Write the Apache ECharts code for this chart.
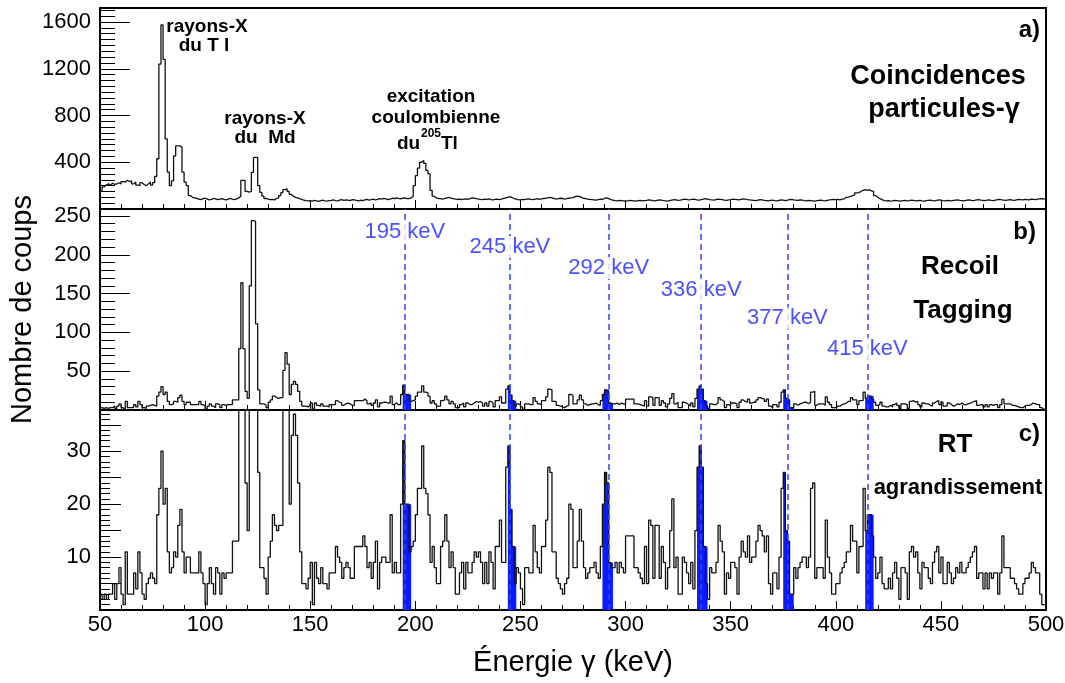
<!DOCTYPE html>
<html><head><meta charset="utf-8">
<script src="https://cdn.jsdelivr.net/npm/echarts@6/dist/echarts.min.js"></script>
<style>html,body{margin:0;padding:0;background:#fff}#c{width:1065px;height:683px}</style>
</head><body><div id="c"></div>
<script>
// ---------------- DATA ----------------
// histogram bins: left edge = binStart + i*binWidth (keV)
const binStart = 50, binWidth = 1;
// a) Coincidences particules-gamma
const coinc = [
120,150,190,205,215,205,220,210,215,225,
215,235,230,245,235,240,215,230,205,200,
225,210,200,215,230,205,225,280,430,1240,
1575,1280,600,316,200,240,455,540,540,530,
315,230,200,115,100,95,90,85,80,88,
92,85,78,82,90,86,80,84,88,82,
78,85,90,84,80,86,95,110,245,245,
150,145,150,314,441,441,200,143,110,90,
85,80,82,78,90,95,115,140,165,172,
150,125,110,100,95,88,82,75,72,70,
72,68,74,70,66,72,75,70,68,72,
74,78,72,70,76,80,74,78,76,72,
80,78,74,70,76,72,78,82,76,80,
84,78,82,88,85,90,86,80,84,92,
88,95,90,86,92,96,90,88,95,110,
200,285,350,400,415,390,330,300,160,110,
95,90,88,85,90,95,100,92,88,85,
82,85,80,84,86,82,88,95,92,88,
85,82,80,84,82,86,80,78,82,85,
80,84,90,95,100,105,98,88,84,80,
78,82,80,84,86,82,80,85,88,82,
86,90,92,95,100,96,90,85,88,92,
90,85,88,92,95,98,105,110,108,100,
92,88,85,82,80,78,76,80,84,82,
90,95,88,80,76,72,70,74,72,70,
68,70,74,72,70,68,72,74,70,72,
74,78,76,72,70,74,78,76,72,70,
68,72,76,80,78,74,76,80,84,82,
78,80,84,82,78,76,80,84,88,84,
80,78,76,80,84,82,80,76,74,78,
80,84,82,80,78,82,86,84,80,78,
76,74,72,76,80,78,74,72,70,74,
76,72,70,74,78,76,72,75,80,82,
78,76,74,78,76,72,70,74,72,70,
68,72,74,76,72,70,74,78,80,82,
80,82,78,84,86,100,102,108,115,120,
138,140,150,160,166,160,165,155,150,115,
100,88,80,72,70,72,68,70,74,72,
70,68,72,74,70,72,76,74,70,72,
74,70,68,72,74,76,72,70,74,78,
76,72,70,74,72,70,74,76,78,74,
72,70,74,78,76,72,74,78,80,76,
74,72,76,78,74,72,76,80,82,78,
76,74,78,80,76,74,78,82,80,78,
82,80,78,84,82,80,84,86,88,87
];
// b) / c) Recoil Tagging spectrum (c is an enlargement of b)
const rt = [
2,3,2,3,2,3,3,5,2,5,
8,3,1,11,3,3,3,7,4,11,
7,3,2,5,6,7,6,5,18,23,
30,20,23,11,7,8,11,10,16,19,
11,7,10,10,7,7,7,7,11,7,
5,1,5,8,5,3,8,7,3,7,
6,7,7,7,13,13,13,79,164,79,
24,15,160,244,243,111,26,8,8,6,
3,10,13,18,16,15,16,16,51,74,
59,20,33,37,33,24,11,5,5,4,
6,9,1,9,6,5,8,5,5,4,
7,7,7,12,10,9,6,8,9,8,
6,6,12,12,12,12,14,12,8,9,
6,9,13,4,9,10,10,9,9,18,
7,9,7,7,20,32,20,20,11,12,
13,18,23,23,31,23,22,18,9,12,
8,5,5,12,13,18,13,8,11,8,
3,3,7,9,4,9,7,7,9,11,
10,11,9,5,9,5,11,9,4,12,
12,17,9,9,27,31,19,12,5,8,
7,4,1,8,8,7,7,16,11,8,
7,12,12,17,27,26,11,11,6,5,
4,3,5,6,20,19,8,8,13,19,
13,8,6,7,8,8,9,7,6,12,
20,26,24,9,8,8,9,7,9,8,
7,14,14,14,14,8,8,7,6,5,
12,5,17,16,6,16,16,6,12,9,
4,8,15,21,8,10,3,3,10,9,
7,5,9,4,15,27,31,27,12,5,
2,8,7,7,9,16,13,11,3,7,
6,9,9,8,3,10,13,11,10,14,
9,10,10,13,16,15,14,11,14,5,
3,7,7,4,10,23,26,15,13,3,
3,8,6,8,9,10,10,8,10,23,
24,6,8,8,8,6,17,10,7,3,
3,5,5,7,8,9,11,11,16,13,
13,7,12,12,23,15,18,18,14,10,
6,7,10,5,4,4,6,4,7,9,
6,2,8,8,7,2,11,12,10,11,
7,4,9,8,8,6,5,9,11,12,
7,10,5,5,9,7,5,6,8,7,
9,7,7,8,9,10,11,12,6,7,
7,4,7,4,7,6,7,7,3,7,
14,8,8,8,6,6,5,4,3,3,
5,6,6,7,9,8,7,7,3,1
];
const peakEnergies = [195, 245, 292, 336, 377, 415];
const peakLabels = ['195 keV', '245 keV', '292 keV', '336 keV', '377 keV', '415 keV'];
const peakBins = [[194,198],[244,248],[289,294],[334,339],[375,380],[414,418]]; // highlighted bins [from, to) keV
const xTicks = [50,100,150,200,250,300,350,400,450,500];
const yTicksA = [400,800,1200,1600];
const yTicksB = [50,100,150,200,250];
const yTicksC = [10,20,30];

// ---------------- CHART ----------------
const FONT = '"Liberation Sans", Arial, Helvetica, sans-serif';
const BLUE_FILL = '#0a1cff';
const BLUE_LINE = '#3544ff';
const BLUE_TEXT = '#1c24ff';
// label heights (data units, panel b) for the peak annotations
const labelHeightB = [230, 210, 183, 155, 118, 79];

function stepData(vals) {
  const d = vals.map((v, i) => [binStart + i * binWidth, v]);
  d.push([binStart + vals.length * binWidth, vals[vals.length - 1]]);
  return d;
}
function subData(vals, a, b) {
  const d = [];
  for (let e = a; e < b; e += binWidth) d.push([e, vals[Math.round((e - binStart) / binWidth)]]);
  d.push([b, vals[Math.round((b - binWidth - binStart) / binWidth)]]);
  return d;
}

const gridsPos = [
  {left: 100, top: 8, width: 946, height: 201},
  {left: 100, top: 209, width: 946, height: 201},
  {left: 100, top: 410, width: 946, height: 200}
];

function xAxisFor(i) {
  const ax = {
    gridIndex: i, type: 'value', min: 50, max: 500, interval: 50,
    axisLine: {show: false},
    axisTick: {show: true, inside: true, length: 9, lineStyle: {color: '#000', width: 1}},
    minorTick: {show: true, splitNumber: 5, length: 5, lineStyle: {color: '#000', width: 1}},
    splitLine: {show: false}, minorSplitLine: {show: false},
    axisLabel: {show: i === 2, margin: 4, color: '#000', fontSize: 22, fontFamily: FONT,
      showMinLabel: true, showMaxLabel: true,
      formatter: v => xTicks.includes(v) ? String(v) : ''}
  };
  if (i === 2) {
    Object.assign(ax, {name: 'Énergie γ (keV)', nameLocation: 'middle', nameGap: 38,
      nameTextStyle: {fontSize: 29, fontFamily: FONT, color: '#000'}});
  }
  return ax;
}
function yAxisFor(i, max, interval, minorSplit, majLen, minLen, labels) {
  const ax = {
    gridIndex: i, type: 'value', min: 0, max: max, interval: interval,
    axisLine: {show: false},
    axisTick: {show: true, inside: true, length: majLen, lineStyle: {color: '#000', width: 1}},
    minorTick: {show: true, splitNumber: minorSplit, length: minLen, lineStyle: {color: '#000', width: 1}},
    splitLine: {show: false}, minorSplitLine: {show: false},
    axisLabel: {margin: 9, color: '#000', fontSize: 22, fontFamily: FONT,
      formatter: v => labels.includes(v) ? String(v) : ''}
  };
  if (i === 1) {
    Object.assign(ax, {name: 'Nombre de coups', nameLocation: 'middle', nameGap: 63, nameRotate: 90,
      nameTextStyle: {fontSize: 29, fontFamily: FONT, color: '#000'}});
  }
  return ax;
}

const series = [];
// panel a histogram
series.push({type: 'line', xAxisIndex: 0, yAxisIndex: 0, step: 'start', symbol: 'none', silent: true,
  data: stepData(coinc), lineStyle: {color: '#111', width: 1.3}, z: 3, animation: false});

[1, 2].forEach(p => {
  // blue highlighted bins
  peakBins.forEach(([a, b]) => {
    series.push({type: 'line', xAxisIndex: p, yAxisIndex: p, step: 'start', symbol: 'none', silent: true,
      data: subData(rt, a, b), lineStyle: {width: 0, color: BLUE_FILL},
      areaStyle: {color: BLUE_FILL, opacity: 1}, z: 2, animation: false});
  });
  // histogram with dashed markers
  series.push({type: 'line', xAxisIndex: p, yAxisIndex: p, step: 'start', symbol: 'none', silent: true,
    data: stepData(rt), lineStyle: {color: '#111', width: 1.3}, z: 3, animation: false,
    markLine: {silent: true, symbol: ['none', 'none'], animation: false,
      lineStyle: {color: BLUE_LINE, width: 1.5, type: [6, 4]}, label: {show: false},
      data: peakEnergies.map(e => ({xAxis: e}))}});
});
// peak labels (panel b)
series.push({type: 'scatter', xAxisIndex: 1, yAxisIndex: 1, symbolSize: 1, silent: true,
  itemStyle: {color: 'rgba(0,0,0,0)'}, z: 10, animation: false,
  data: peakEnergies.map((e, i) => [e, labelHeightB[i]]),
  label: {show: true, position: 'inside', formatter: p => peakLabels[p.dataIndex],
    color: BLUE_TEXT, fontSize: 22, fontFamily: FONT, backgroundColor: '#fff', padding: [0, 1]}});

function txt(x, y, text, size, weight, align, color) {
  return {type: 'text', x: x, y: y, silent: true, z: 20,
    style: {text: text, fill: color || '#000', fontSize: size, fontWeight: weight || 'bold', fontFamily: FONT,
      textAlign: align || 'center', align: align || 'center', textVerticalAlign: 'middle', verticalAlign: 'middle'}};
}
const graphics = [
  txt(207, 27, 'rayons-X', 19),
  txt(204, 46, 'du T l', 19),
  txt(265, 119, 'rayons-X', 19),
  txt(265, 138, 'du  Md', 19),
  txt(431, 97, 'excitation', 19),
  txt(436, 118, 'coulombienne', 19),
  txt(397, 144, 'du', 19, 'bold', 'left'),
  txt(421, 134, '205', 12, 'bold', 'left'),
  txt(441, 144, 'Tl', 19, 'bold', 'left'),
  txt(1040, 30, 'a)', 24, 'bold', 'right'),
  txt(938, 77, 'Coincidences', 27),
  txt(944, 110, 'particules-γ', 27),
  txt(1036, 232, 'b)', 24, 'bold', 'right'),
  txt(960, 267, 'Recoil', 26),
  txt(963, 311, 'Tagging', 26),
  txt(1040, 434, 'c)', 24, 'bold', 'right'),
  txt(955, 445, 'RT', 26),
  txt(958, 488, 'agrandissement', 22)
];

const chart = echarts.init(document.getElementById('c'), null, {renderer: 'canvas'});
chart.setOption({
  animation: false,
  backgroundColor: '#fff',
  grid: gridsPos.map(g => Object.assign({}, g, {show: true, borderColor: '#000', borderWidth: 2,
    backgroundColor: 'transparent', containLabel: false, outerBoundsMode: 'none'})),
  xAxis: [xAxisFor(0), xAxisFor(1), xAxisFor(2)],
  yAxis: [
    yAxisFor(0, 1720, 400, 8, 30, 15, yTicksA),
    yAxisFor(1, 259, 50, 5, 30, 15, yTicksB),
    yAxisFor(2, 37.8, 5, 5, 21, 10, yTicksC)
  ],
  series: series,
  graphic: graphics
});
</script></body></html>
